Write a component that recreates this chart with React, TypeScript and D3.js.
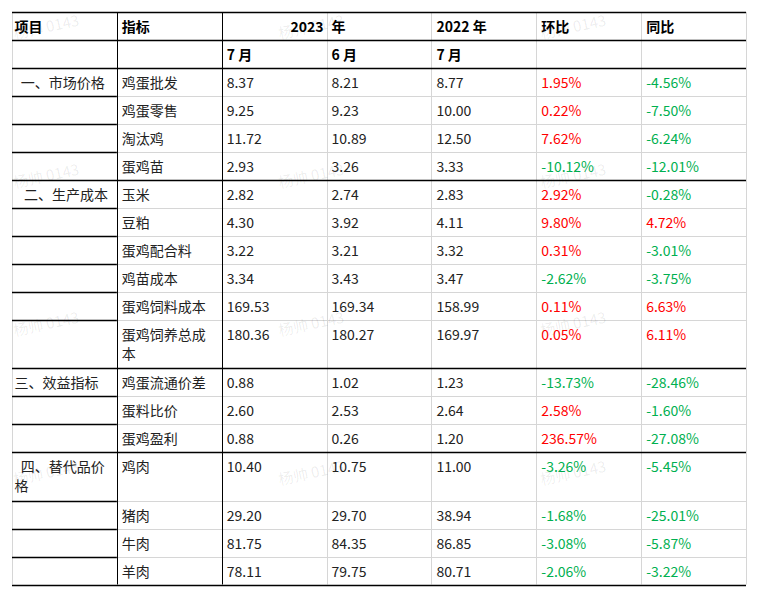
import React from 'react';
import * as d3 from 'd3';

const headerRow1 = ['项目', '指标', '2023', '年', '2022 年', '环比', '同比'];
const headerRow2 = ['', '', '7 月', '6 月', '7 月', '', ''];

const categories = [
  '  一、市场价格', '', '', '',
  '   二、生产成本', '', '', '', '', '',
  '三、效益指标', '', '',
  '  四、替代品价格', '', '', '',
];
const indicators = [
  '鸡蛋批发', '鸡蛋零售', '淘汰鸡', '蛋鸡苗',
  '玉米', '豆粕', '蛋鸡配合料', '鸡苗成本', '蛋鸡饲料成本', '蛋鸡饲养总成本',
  '鸡蛋流通价差', '蛋料比价', '蛋鸡盈利',
  '鸡肉', '猪肉', '牛肉', '羊肉',
];
const jul2023 = [8.37, 9.25, 11.72, 2.93, 2.82, 4.30, 3.22, 3.34, 169.53, 180.36, 0.88, 2.60, 0.88, 10.40, 29.20, 81.75, 78.11];
const jun2023 = [8.21, 9.23, 10.89, 3.26, 2.74, 3.92, 3.21, 3.43, 169.34, 180.27, 1.02, 2.53, 0.26, 10.75, 29.70, 84.35, 79.75];
const jul2022 = [8.77, 10.00, 12.50, 3.33, 2.83, 4.11, 3.32, 3.47, 158.99, 169.97, 1.23, 2.64, 1.20, 11.00, 38.94, 86.85, 80.71];
const momPct = [1.95, 0.22, 7.62, -10.12, 2.92, 9.80, 0.31, -2.62, 0.11, 0.05, -13.73, 2.58, 236.57, -3.26, -1.68, -3.08, -2.06];
const yoyPct = [-4.56, -7.50, -6.24, -12.01, -0.28, 4.72, -3.01, -3.75, 6.63, 6.11, -28.46, -1.60, -27.08, -5.45, -25.01, -5.87, -3.22];

const watermarkText = '杨帅 0143';

const W = 759;
const H = 597;
const FONT = "'Noto Sans CJK SC', 'Microsoft YaHei', sans-serif";
const FS = 14;
const RED = '#FF0000';
const GREEN = '#00B050';
const TEXT = '#222';
const GRAY = '#d6d6d6';

function charW(c: string) {
  if (c === ' ') return 0.23 * FS;
  if (/[\u3000-\u9fff\uff00-\uffef]/.test(c)) return FS;
  return 0.56 * FS;
}
function wrap(s: string, maxW: number): string[] {
  if (!s) return [''];
  const lines: string[] = [];
  let cur = '';
  let w = 0;
  for (const c of s) {
    const cw = charW(c);
    if (w + cw > maxW && cur) {
      lines.push(cur);
      cur = c;
      w = cw;
    } else {
      cur += c;
      w += cw;
    }
  }
  if (cur) lines.push(cur);
  return lines;
}

export default function App() {
  const x = d3.scaleLinear().domain([0, 7]).range([12, 746]);
  const colW = x(1) - x(0);
  const maxTextW = colW - 8;
  const f2 = d3.format('.2f');
  const fmt = (v: number) => f2(v).replace('\u2212', '-');

  const rows = indicators.map((ind, i) => {
    const catLines = wrap(categories[i], maxTextW);
    const indLines = wrap(ind, maxTextW);
    const nLines = Math.max(catLines.length, indLines.length);
    return {
      cells: [catLines, indLines, [fmt(jul2023[i])], [fmt(jun2023[i])], [fmt(jul2022[i])], [fmt(momPct[i]) + '%'], [fmt(yoyPct[i]) + '%']],
      colors: [TEXT, TEXT, TEXT, TEXT, TEXT, momPct[i] >= 0 ? RED : GREEN, yoyPct[i] >= 0 ? RED : GREEN],
      height: 28 + (nLines - 1) * 20.5,
      sectionStart: categories[i] !== '',
    };
  });

  const heights = [27.5, 28, ...rows.map(r => r.height)];
  const tops = [12, ...Array.from(d3.cumsum(heights)).map(v => 12 + v)];
  const yEnd = tops[tops.length - 1];

  const thick = new Set<number>([0, 1, 2, tops.length - 1]);
  rows.forEach((r, i) => { if (r.sectionStart) thick.add(i + 2); });

  const grayLines: JSX.Element[] = [];
  const blackLines: JSX.Element[] = [];

  for (let c = 0; c <= 7; c++) {
    const xx = Math.round(x(c)) + 0.5;
    const el = <line key={'v' + c} x1={xx} x2={xx} y1={tops[0]} y2={yEnd} stroke={c === 1 || c === 2 ? '#000' : GRAY} strokeWidth={1} />;
    if (c === 1 || c === 2) blackLines.push(el); else grayLines.push(el);
  }
  tops.forEach((t, b) => {
    const yy = Math.round(t) + 0.5;
    if (thick.has(b)) {
      blackLines.push(<line key={'h' + b} x1={x(0)} x2={x(7)} y1={yy} y2={yy} stroke="#000" strokeWidth={1.5} />);
    } else {
      blackLines.push(<line key={'h0' + b} x1={x(0)} x2={x(1)} y1={yy} y2={yy} stroke="#000" strokeWidth={1.5} />);
      grayLines.push(<line key={'h1' + b} x1={x(1)} x2={x(7)} y1={yy} y2={yy} stroke={GRAY} strokeWidth={1} />);
    }
  });

  const texts: JSX.Element[] = [];
  const padL = (c: number) => (c === 0 ? 2.5 : 5);
  [headerRow1, headerRow2].forEach((hr, r) => {
    hr.forEach((s, c) => {
      if (!s) return;
      const rightAlign = r === 0 && c === 2;
      texts.push(
        <text key={`h${r}-${c}`} x={rightAlign ? x(c + 1) - 3 : x(c) + padL(c)} y={tops[r] + 20}
          textAnchor={rightAlign ? 'end' : 'start'} fontWeight="bold" fill="#000"
          style={{ whiteSpace: 'pre' }}>{s}</text>
      );
    });
  });
  rows.forEach((row, i) => {
    const top = tops[i + 2];
    row.cells.forEach((lines, c) => {
      lines.forEach((ln, li) => {
        if (!ln) return;
        texts.push(
          <text key={`d${i}-${c}-${li}`} x={x(c) + padL(c)} y={top + 20 + li * 19} fill={row.colors[c]}
            style={{ whiteSpace: 'pre' }}>{ln}</text>
        );
      });
    });
  });

  const wmX = [46, 311, 573];
  const wmY = [26, 175, 323, 472];
  const marks: JSX.Element[] = [];
  wmY.forEach((cy, r) => wmX.forEach((cx, c) => {
    marks.push(
      <text key={`w${r}-${c}`} x={cx} y={cy} textAnchor="middle" dominantBaseline="central"
        transform={`rotate(-12, ${cx}, ${cy})`} fill="rgba(0,0,0,0.08)" fontSize={15}>{watermarkText}</text>
    );
  }));

  return (
    <svg width={W} height={H} viewBox={`0 0 ${W} ${H}`}
      style={{ position: 'absolute', left: 0, top: 0, display: 'block', background: '#fff' }}
      fontFamily={FONT} fontSize={FS}>
      <rect x={0} y={0} width={W} height={H} fill="#fff" />
      {grayLines}
      {blackLines}
      {texts}
      {marks}
    </svg>
  );
}
